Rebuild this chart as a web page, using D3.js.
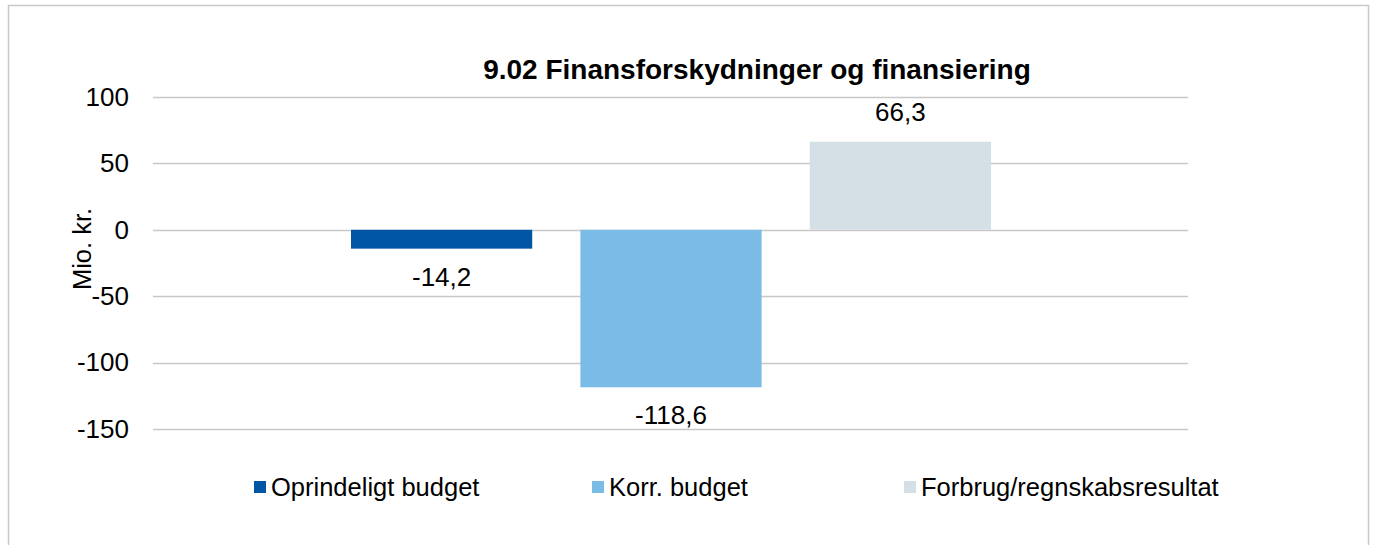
<!DOCTYPE html>
<html>
<head>
<meta charset="utf-8">
<title>9.02 Finansforskydninger og finansiering</title>
<script src="https://d3js.org/d3.v7.min.js"></script>
<style>
  body { margin: 0; background: #fff; }
  svg text { font-family: "Liberation Sans", Arial, sans-serif; fill: #000; }
</style>
</head>
<body>
<svg width="1375" height="545"></svg>
<script>
// data
var series = ["Oprindeligt budget", "Korr. budget", "Forbrug/regnskabsresultat"];
var values = [-14.2, -118.6, 66.3];
var labels = ["-14,2", "-118,6", "66,3"];
var colors = ["#0055a4", "#7bbce7", "#d5dfe6"];
var yTicks = [100, 50, 0, -50, -100, -150];

var svg = d3.select("svg");

// outer frame
svg.append("rect")
  .attr("x", 8.5).attr("y", 5.5)
  .attr("width", 1360).attr("height", 560)
  .style("fill", "none")
  .style("stroke", "#c9c9c9")
  .style("stroke-width", 1.5);

var plotLeft = 153, plotRight = 1188;

var y = d3.scaleLinear()
  .domain([-150, 100])
  .range([429, 97]);

var x = d3.scaleBand()
  .domain(series)
  .range([351, 991])
  .paddingInner(0.21)
  .paddingOuter(0);

// gridlines
svg.selectAll("line.grid")
  .data(yTicks)
  .enter().append("line")
  .attr("class", "grid")
  .attr("x1", plotLeft).attr("x2", plotRight)
  .attr("y1", function(d) { return Math.round(y(d)) + 0.5; })
  .attr("y2", function(d) { return Math.round(y(d)) + 0.5; })
  .style("stroke", "#c8c8c8")
  .style("stroke-width", 1.3);

// y axis labels
var yAxis = svg.append("g")
  .attr("transform", "translate(" + (plotLeft - 24) + ",0)")
  .call(d3.axisLeft(y).tickValues(yTicks).tickSize(0).tickPadding(0)
    .tickFormat(function(d) { return String(d); }));
yAxis.select(".domain").remove();
yAxis.selectAll("text")
  .style("font-size", "26px")
  .style("font-family", "Liberation Sans, Arial, sans-serif")
  .attr("fill", "#000");

svg.append("text")
  .attr("transform", "translate(91,249) rotate(-90)")
  .attr("text-anchor", "middle")
  .style("font-size", "25.5px")
  .text("Mio. kr.");

// title
svg.append("text")
  .attr("x", 757).attr("y", 79)
  .attr("text-anchor", "middle")
  .style("font-size", "28px")
  .style("font-weight", "bold")
  .text("9.02 Finansforskydninger og finansiering");

// bars
svg.selectAll("rect.bar")
  .data(values)
  .enter().append("rect")
  .attr("class", "bar")
  .attr("x", function(d, i) { return x(series[i]); })
  .attr("width", x.bandwidth())
  .attr("y", function(d) { return y(Math.max(0, d)); })
  .attr("height", function(d) { return Math.abs(y(d) - y(0)); })
  .style("fill", function(d, i) { return colors[i]; });

// value labels
svg.selectAll("text.val")
  .data(values)
  .enter().append("text")
  .attr("class", "val")
  .attr("x", function(d, i) { return x(series[i]) + x.bandwidth() / 2; })
  .attr("y", function(d) { return d >= 0 ? y(d) - 21 : y(d) + 37; })
  .attr("text-anchor", "middle")
  .style("font-size", "26px")
  .text(function(d, i) { return labels[i]; });

// legend
var legendX = [254, 592, 904];
var legend = svg.selectAll("g.legend")
  .data(series)
  .enter().append("g")
  .attr("class", "legend")
  .attr("transform", function(d, i) { return "translate(" + legendX[i] + ",481)"; });
legend.append("rect")
  .attr("width", 12).attr("height", 12)
  .style("fill", function(d, i) { return colors[i]; });
legend.append("text")
  .attr("x", 17).attr("y", 15)
  .style("font-size", "25.5px")
  .text(function(d) { return d; });
</script>
</body>
</html>
